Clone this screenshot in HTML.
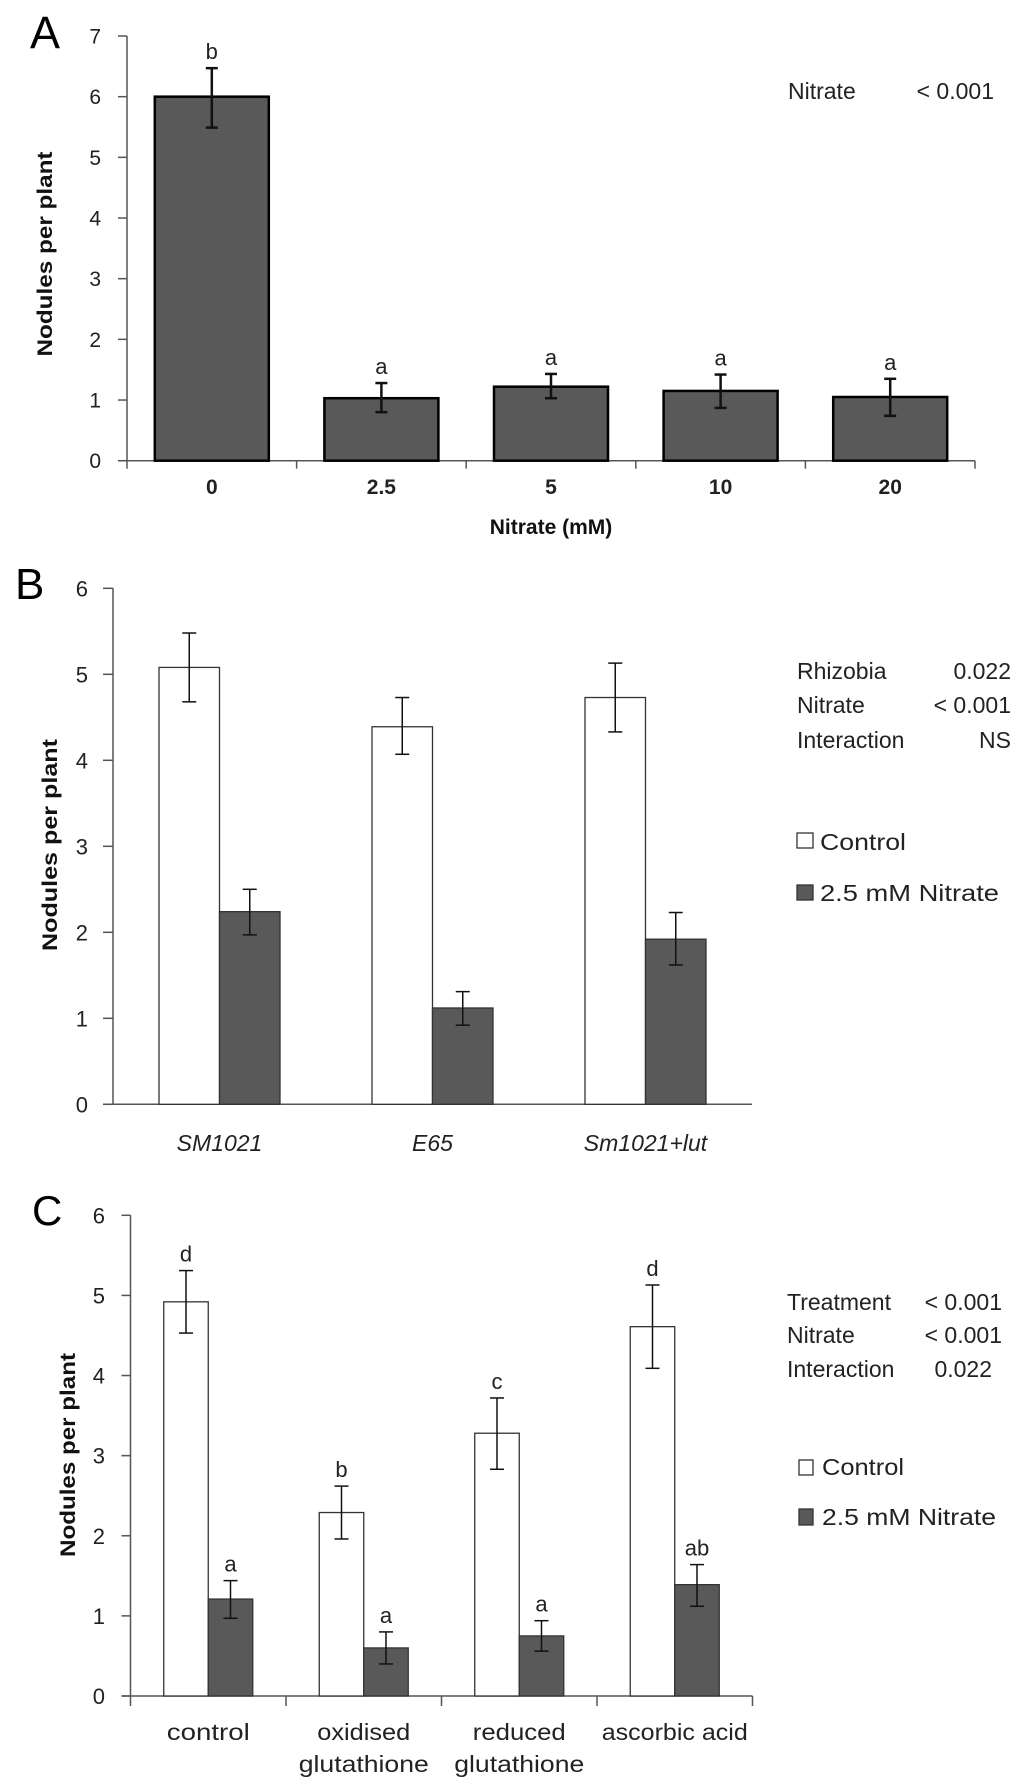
<!DOCTYPE html>
<html><head><meta charset="utf-8"><style>
html,body{margin:0;padding:0;background:#fff;}
svg{display:block;font-family:"Liberation Sans",sans-serif;}
</style></head><body>
<svg id="fig" width="1024" height="1790" viewBox="0 0 1024 1790" xmlns="http://www.w3.org/2000/svg"></svg>
<script>
// Panel A data
const aCategories = ["0","2.5","5","10","20"];
const aValues = [6.0, 1.03, 1.22, 1.15, 1.05];
const aErrHi = [6.47, 1.28, 1.43, 1.42, 1.35];
const aErrLo = [5.49, 0.80, 1.03, 0.87, 0.74];
const aLetters = ["b","a","a","a","a"];
const aTicks = [0,1,2,3,4,5,6,7];
// Panel B data
const bCategories = ["SM1021","E65","Sm1021+lut"];
const bControl = [5.08, 4.39, 4.73];
const bControlHi = [5.48, 4.73, 5.13];
const bControlLo = [4.68, 4.07, 4.33];
const bNitrate = [2.24, 1.12, 1.92];
const bNitrateHi = [2.50, 1.31, 2.23];
const bNitrateLo = [1.97, 0.92, 1.62];
const bTicks = [0,1,2,3,4,5,6];
// Panel C data
const cCategories = [["control"],["oxidised","glutathione"],["reduced","glutathione"],["ascorbic acid"]];
const cControl = [4.92, 2.29, 3.28, 4.61];
const cControlHi = [5.31, 2.62, 3.72, 5.13];
const cControlLo = [4.53, 1.96, 2.83, 4.09];
const cNitrate = [1.21, 0.60, 0.75, 1.39];
const cNitrateHi = [1.44, 0.80, 0.94, 1.64];
const cNitrateLo = [0.97, 0.40, 0.56, 1.12];
const cControlLetters = ["d","b","c","d"];
const cNitrateLetters = ["a","a","a","ab"];
const cTicks = [0,1,2,3,4,5,6];

const labelWidths = {"control":83,"oxidised":93,"glutathione":130,"reduced":93,"ascorbic acid":146};

const NS = "http://www.w3.org/2000/svg";
const svg = document.getElementById("fig");
function el(tag, attrs, parent, text){
  const e = document.createElementNS(NS, tag);
  for (const k in attrs) e.setAttribute(k, attrs[k]);
  if (text !== undefined) e.textContent = text;
  (parent || svg).appendChild(e);
  return e;
}
function grp(name){
  const g = el("g", {});
  
  
  return g;
}
function txt(parent, name, x, y, s, extra){
  const t = el("text", Object.assign({x:x, y:y}, extra||{}), parent, s);
  
  
  return t;
}
function errBar(parent, name, x, yHi, yLo, cap, sw){
  const g = el("g", {stroke:"#111","stroke-width":sw}, parent);
  
  
  el("line",{x1:x,x2:x,y1:yHi,y2:yLo},g);
  el("line",{x1:x-cap,x2:x+cap,y1:yHi,y2:yHi},g);
  el("line",{x1:x-cap,x2:x+cap,y1:yLo,y2:yLo},g);
}

// ---------- Panel A ----------
(function(){
  const g = grp("panel-a");
  const x0 = 127, x1 = 975, yZero = 460.7, yTop = 36;
  const ys = v => yZero - (yZero - yTop) * v / 7;
  const cw = (x1 - x0) / aCategories.length;
  const xs = i => x0 + cw * i;
  txt(g,"panel-a-label",30,48,"A",{"font-size":45});
  el("line",{x1:x0,x2:x0,y1:yTop,y2:yZero,stroke:"#555","stroke-width":1.5},g);
  el("line",{x1:x0-9,x2:x1,y1:yZero,y2:yZero,stroke:"#555","stroke-width":1.5},g);
  aTicks.forEach(t=>{
    el("line",{x1:x0-9,x2:x0,y1:ys(t),y2:ys(t),stroke:"#555","stroke-width":1.5},g);
    txt(g,"y-tick-label",101,ys(t)+7.5,String(t),{"font-size":21,"text-anchor":"end",fill:"#222"});
  });
  for(let i=0;i<=aCategories.length;i++){
    el("line",{x1:xs(i),x2:xs(i),y1:yZero,y2:yZero+8,stroke:"#555","stroke-width":1.5},g);
  }
  aCategories.forEach((c,i)=>{
    const cx = xs(i)+cw/2, bw = 114;
    const b = el("rect",{x:cx-bw/2,y:ys(aValues[i]),width:bw,height:yZero-ys(aValues[i]),fill:"#595959",stroke:"#000","stroke-width":2.5},g);
    
    
    errBar(g,"error-bar",cx,ys(aErrHi[i]),ys(aErrLo[i]),6,2.5);
    txt(g,"significance-letter",cx,ys(aErrHi[i])-9,aLetters[i],{"font-size":22,"text-anchor":"middle",fill:"#222"});
    txt(g,"x-tick-label",cx,494,c,{"font-size":21,"font-weight":"bold","text-anchor":"middle",fill:"#222"});
  });
  txt(g,"x-axis-title",551,534,"Nitrate (mM)",{"font-size":21,"font-weight":"bold","text-anchor":"middle",fill:"#111"});
  txt(g,"y-axis-title",0,0,"Nodules per plant",{"font-size":21,"font-weight":"bold","text-anchor":"middle",transform:"translate(52,254) rotate(-90)",textLength:205,lengthAdjust:"spacingAndGlyphs",fill:"#111"});
  txt(g,"stat-nitrate-label",788,99,"Nitrate",{"font-size":23,fill:"#222"});
  txt(g,"stat-nitrate-value",994,99,"< 0.001",{"font-size":23,"text-anchor":"end",fill:"#222"});
})();

// ---------- Panel B ----------
(function(){
  const g = grp("panel-b");
  const x0 = 113, x1 = 752, yZero = 1104.3, yTop = 588.3;
  const ys = v => yZero - (yZero - yTop) * v / 6;
  const cw = (x1 - x0) / bCategories.length;
  const bw = 60.5;
  txt(g,"panel-b-label",15,599,"B",{"font-size":44});
  el("line",{x1:x0,x2:x0,y1:yTop,y2:yZero,stroke:"#555","stroke-width":1.5},g);
  el("line",{x1:x0-10,x2:x1,y1:yZero,y2:yZero,stroke:"#555","stroke-width":1.5},g);
  bTicks.forEach(t=>{
    el("line",{x1:x0-10,x2:x0,y1:ys(t),y2:ys(t),stroke:"#555","stroke-width":1.5},g);
    txt(g,"y-tick-label",88,ys(t)+8,String(t),{"font-size":22,"text-anchor":"end",fill:"#222"});
  });
  bCategories.forEach((c,i)=>{
    const cx = x0 + cw*i + cw/2;
    const r1 = el("rect",{x:cx-bw,y:ys(bControl[i]),width:bw,height:yZero-ys(bControl[i]),fill:"#fff",stroke:"#333","stroke-width":1.3},g);
    
    
    const r2 = el("rect",{x:cx,y:ys(bNitrate[i]),width:bw,height:yZero-ys(bNitrate[i]),fill:"#595959",stroke:"#333","stroke-width":1.3},g);
    
    
    errBar(g,"error-bar",cx-bw/2,ys(bControlHi[i]),ys(bControlLo[i]),7,1.5);
    errBar(g,"error-bar",cx+bw/2,ys(bNitrateHi[i]),ys(bNitrateLo[i]),7,1.5);
    txt(g,"x-tick-label",cx,1151,c,{"font-size":23,"font-style":"italic","text-anchor":"middle",fill:"#222"});
  });
  txt(g,"y-axis-title",0,0,"Nodules per plant",{"font-size":21,"font-weight":"bold","text-anchor":"middle",transform:"translate(57,845) rotate(-90)",textLength:212,lengthAdjust:"spacingAndGlyphs",fill:"#111"});
  [["Rhizobia","0.022",679],["Nitrate","< 0.001",713],["Interaction","NS",748]].forEach(r=>{
    txt(g,"stat-label",797,r[2],r[0],{"font-size":23,fill:"#222"});
    txt(g,"stat-value",1011,r[2],r[1],{"font-size":23,"text-anchor":"end",fill:"#222"});
  });
  const l1 = el("rect",{x:797,y:833,width:16,height:15,fill:"#fff",stroke:"#333","stroke-width":1.3},g);
  
  
  txt(g,"legend-entry-control",820,850,"Control",{"font-size":23,textLength:86,lengthAdjust:"spacingAndGlyphs",fill:"#222"});
  const l2 = el("rect",{x:797,y:885,width:16,height:15,fill:"#595959",stroke:"#333","stroke-width":1.3},g);
  
  
  txt(g,"legend-entry-nitrate",820,901,"2.5 mM Nitrate",{"font-size":23,textLength:179,lengthAdjust:"spacingAndGlyphs",fill:"#222"});
})();

// ---------- Panel C ----------
(function(){
  const g = grp("panel-c");
  const x0 = 130.5, x1 = 752.5, yZero = 1696, yTop = 1215.3;
  const ys = v => yZero - (yZero - yTop) * v / 6;
  const cw = (x1 - x0) / cCategories.length;
  const bw = 44.5;
  txt(g,"panel-c-label",32,1225,"C",{"font-size":42});
  el("line",{x1:x0,x2:x0,y1:yTop,y2:yZero,stroke:"#555","stroke-width":1.5},g);
  el("line",{x1:x0-9,x2:x1,y1:yZero,y2:yZero,stroke:"#555","stroke-width":1.5},g);
  cTicks.forEach(t=>{
    el("line",{x1:x0-9,x2:x0,y1:ys(t),y2:ys(t),stroke:"#555","stroke-width":1.5},g);
    txt(g,"y-tick-label",105,ys(t)+8,String(t),{"font-size":22,"text-anchor":"end",fill:"#222"});
  });
  for(let i=0;i<=cCategories.length;i++){
    const x = x0 + cw*i;
    el("line",{x1:x,x2:x,y1:yZero,y2:yZero+10,stroke:"#555","stroke-width":1.5},g);
  }
  cCategories.forEach((c,i)=>{
    const cx = x0 + cw*i + cw/2;
    const r1 = el("rect",{x:cx-bw,y:ys(cControl[i]),width:bw,height:yZero-ys(cControl[i]),fill:"#fff",stroke:"#333","stroke-width":1.3},g);
    
    
    const r2 = el("rect",{x:cx,y:ys(cNitrate[i]),width:bw,height:yZero-ys(cNitrate[i]),fill:"#595959",stroke:"#333","stroke-width":1.3},g);
    
    
    errBar(g,"error-bar",cx-bw/2,ys(cControlHi[i]),ys(cControlLo[i]),7,1.5);
    errBar(g,"error-bar",cx+bw/2,ys(cNitrateHi[i]),ys(cNitrateLo[i]),7,1.5);
    txt(g,"significance-letter",cx-bw/2,ys(cControlHi[i])-9,cControlLetters[i],{"font-size":22,"text-anchor":"middle",fill:"#222"});
    txt(g,"significance-letter",cx+bw/2,ys(cNitrateHi[i])-9,cNitrateLetters[i],{"font-size":22,"text-anchor":"middle",fill:"#222"});
    c.forEach((line,j)=>{
      const w = labelWidths[line] || line.length*8.6;
      txt(g,"x-tick-label",cx,1740+j*32,line,{"font-size":23,"text-anchor":"middle",textLength:w,lengthAdjust:"spacingAndGlyphs",fill:"#222"});
    });
  });
  txt(g,"y-axis-title",0,0,"Nodules per plant",{"font-size":21,"font-weight":"bold","text-anchor":"middle",transform:"translate(75,1455) rotate(-90)",textLength:204,lengthAdjust:"spacingAndGlyphs",fill:"#111"});
  [["Treatment","< 0.001",1310],["Nitrate","< 0.001",1343],["Interaction","0.022",1377]].forEach((r,k)=>{
    txt(g,"stat-label",787,r[2],r[0],{"font-size":23,fill:"#222"});
    txt(g,"stat-value",k===2?992:1002,r[2],r[1],{"font-size":23,"text-anchor":"end",fill:"#222"});
  });
  const l1 = el("rect",{x:799,y:1460,width:14,height:15,fill:"#fff",stroke:"#333","stroke-width":1.3},g);
  
  
  txt(g,"legend-entry-control",822,1475,"Control",{"font-size":23,textLength:82,lengthAdjust:"spacingAndGlyphs",fill:"#222"});
  const l2 = el("rect",{x:799,y:1509,width:14,height:16,fill:"#595959",stroke:"#333","stroke-width":1.3},g);
  
  
  txt(g,"legend-entry-nitrate",822,1525,"2.5 mM Nitrate",{"font-size":23,textLength:174,lengthAdjust:"spacingAndGlyphs",fill:"#222"});
})();
</script>
</body></html>
